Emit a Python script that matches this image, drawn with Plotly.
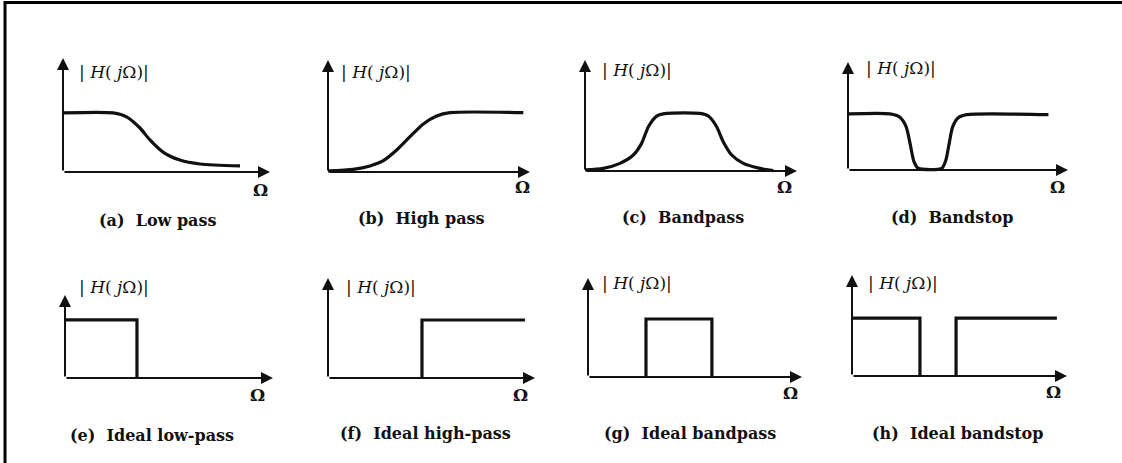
import plotly.graph_objects as go

W, H = 1122, 463

# ---------------- data ----------------
captions = ["(a)  Low pass", "(b)  High pass", "(c)  Bandpass", "(d)  Bandstop",
            "(e)  Ideal low-pass", "(f)  Ideal high-pass", "(g)  Ideal bandpass", "(h)  Ideal bandstop"]
mag_label = "| <i>H</i>( <i>j</i>Ω)|"
axis_label = "Ω"

# (a) low pass
omega_a = [0, 0.242, 0.309, 0.372, 0.420, 0.483, 0.565, 0.662, 0.855]
mag_a = [0.518, 0.518, 0.482, 0.386, 0.281, 0.175, 0.105, 0.070, 0.053]
# (b) high pass
omega_b = [0, 0.125, 0.208, 0.274, 0.340, 0.406, 0.472, 0.538, 0.604, 0.967]
mag_b = [0.01, 0.024, 0.054, 0.101, 0.196, 0.315, 0.429, 0.500, 0.530, 0.530]
# (c) bandpass
omega_c = [0, 0.086, 0.165, 0.228, 0.267, 0.299, 0.338, 0.385, 0.542, 0.582, 0.621, 0.652, 0.692, 0.747, 0.825, 0.888]
mag_c = [0.01, 0.024, 0.069, 0.144, 0.249, 0.399, 0.495, 0.519, 0.519, 0.495, 0.399, 0.264, 0.144, 0.069, 0.024, 0.003]
# (d) bandstop
omega_d = [0, 0.191, 0.236, 0.264, 0.282, 0.300, 0.319, 0.426, 0.445, 0.460, 0.476, 0.501, 0.539, 0.911]
mag_d = [0.519, 0.519, 0.488, 0.401, 0.247, 0.077, 0.016, 0.016, 0.093, 0.247, 0.401, 0.484, 0.512, 0.512]
# (e) ideal low-pass
omega_e = [0, 0.346, 0.346]
mag_e = [0.70, 0.70, 0]
# (f) ideal high-pass
omega_f = [0.454, 0.454, 0.952]
mag_f = [0, 0.58, 0.58]
# (g) ideal bandpass
omega_g = [0.271, 0.271, 0.579, 0.579]
mag_g = [0, 0.586, 0.586, 0]
# (h) ideal bandstop
omega_h = [0, 0.316, 0.316, None, 0.484, 0.484, 0.953]
mag_h = [0.574, 0.574, 0, None, 0, 0.574, 0.574]

series = [(omega_a, mag_a, "spline"), (omega_b, mag_b, "spline"), (omega_c, mag_c, "spline"),
          (omega_d, mag_d, "spline"), (omega_e, mag_e, "linear"), (omega_f, mag_f, "linear"),
          (omega_g, mag_g, "linear"), (omega_h, mag_h, "linear")]

# ---------------- layout geometry (pixels) ----------------
# origin x, origin y, arrow tip x, arrow tip y
boxes = [(63, 172, 270, 58), (328, 172, 530, 60), (585, 171, 797, 60), (848, 170, 1068, 62),
         (65, 378, 273, 295), (328, 378, 535, 278), (588, 377, 802, 278), (852, 376, 1067, 275)]
label_pos = [(77, 72), (339, 72), (600, 70), (864, 68), (77, 287), (344, 287), (600, 283), (866, 283)]
omega_pos = [(260, 190), (522, 187), (785, 187), (1057, 187), (257, 395), (520, 395), (790, 393), (1053, 392)]
caption_pos = [(157, 220), (421, 218), (683, 217), (952, 217), (152, 435), (425, 433), (690, 433), (957, 433)]

PAD = 0.06
FONT = "DejaVu Serif"
INK = "#111111"

fig = go.Figure()
annotations = []
layout_axes = {}

def px(x):
    return x / W

def py(y):
    return 1 - y / H

for i, ((om, mg, shape), (ox, oy, tx, ty)) in enumerate(zip(series, boxes)):
    n = i + 1
    xa = "x" if n == 1 else f"x{n}"
    ya = "y" if n == 1 else f"y{n}"
    wpx = tx - ox
    hpx = oy - ty
    layout_axes[f"xaxis{'' if n == 1 else n}"] = dict(
        domain=[px(ox - PAD * wpx), px(tx + PAD * wpx)], range=[-PAD, 1 + PAD],
        visible=False, anchor=ya, fixedrange=True)
    layout_axes[f"yaxis{'' if n == 1 else n}"] = dict(
        domain=[py(oy + PAD * hpx), py(ty - PAD * hpx)], range=[-PAD, 1 + PAD],
        visible=False, anchor=xa, fixedrange=True)

    fig.add_trace(go.Scatter(
        x=om, y=mg, mode="lines", xaxis=xa, yaxis=ya,
        line=dict(color=INK, width=3.2, shape=shape, smoothing=0.7),
        connectgaps=False, showlegend=False, hoverinfo="skip"))

    # axes as arrows
    for (hx, hy) in [(1, 0), (0, 1)]:
        annotations.append(dict(
            x=hx, y=hy, ax=0, ay=0, xref=xa, yref=ya, axref=xa, ayref=ya,
            text="", showarrow=True, arrowhead=2, arrowsize=1.2, arrowwidth=2,
            arrowcolor=INK, standoff=0, startstandoff=0))

    lx, ly = label_pos[i]
    annotations.append(dict(x=px(lx), y=py(ly), xref="paper", yref="paper", text=mag_label,
                            showarrow=False, xanchor="left", yanchor="middle",
                            font=dict(family=FONT, size=17, color=INK)))
    wx, wy = omega_pos[i]
    annotations.append(dict(x=px(wx), y=py(wy), xref="paper", yref="paper", text="<b>" + axis_label + "</b>",
                            showarrow=False, xanchor="center", yanchor="middle",
                            font=dict(family=FONT, size=17, color=INK)))
    cx, cy = caption_pos[i]
    annotations.append(dict(x=px(cx), y=py(cy), xref="paper", yref="paper", text="<b>" + captions[i] + "</b>",
                            showarrow=False, xanchor="center", yanchor="middle",
                            font=dict(family=FONT, size=16, color=INK)))

fig.update_layout(
    width=W, height=H, margin=dict(l=0, r=0, t=0, b=0),
    paper_bgcolor="white", plot_bgcolor="rgba(0,0,0,0)",
    annotations=annotations,
    shapes=[
        dict(type="line", xref="paper", yref="paper", x0=px(4), x1=1, y0=py(2.5), y1=py(2.5),
             line=dict(color="black", width=3)),
        dict(type="line", xref="paper", yref="paper", x0=px(5), x1=px(5), y0=py(1), y1=0,
             line=dict(color="black", width=3)),
    ],
    **layout_axes)

fig.write_html("out.html", config={"displayModeBar": False},
               post_script="document.body.style.margin='0';document.body.style.overflow='hidden';")
